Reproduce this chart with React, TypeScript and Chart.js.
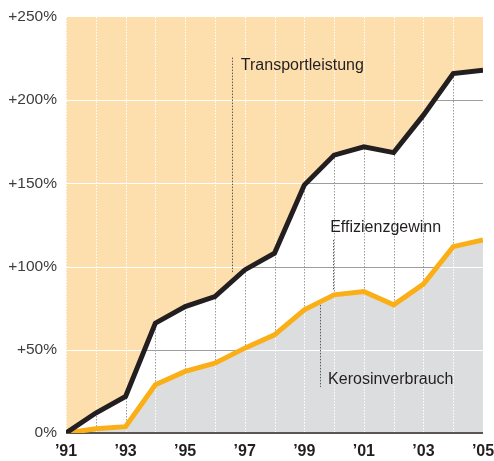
import React, { useEffect, useRef } from "react";
import { Chart, registerables } from "chart.js";

Chart.register(...registerables);

const YEARS = [1991, 1992, 1993, 1994, 1995, 1996, 1997, 1998, 1999, 2000, 2001, 2002, 2003, 2004, 2005];
const TRANSPORT = [0, 12, 22, 66, 76, 82, 98, 108, 149, 167, 172, 168.5, 191, 216, 218];
const KEROSIN = [0, 2.5, 3.8, 29, 37, 42, 51, 59, 74, 83, 85, 77, 89.5, 112, 116];
const Y_TICKS = [0, 50, 100, 150, 200, 250];
const GRID_VALUES = [50, 100, 150, 200];

// annotations: [label, lineX (year), lineTop (%), lineBottom (%), textX (year), textY (%)]
const ANNOTATIONS: [string, number, number, number, number, number][] = [
  ["Transportleistung", 1996.57, 225.6, 96, 1996.87, 221],
  ["Effizienzgewinn", 1999.97, 116, 86, 1999.87, 123.6],
  ["Kerosinverbrauch", 1999.53, 77, 27.6, 1999.8, 32],
];

const ORANGE_BG = "#fddfae";
const GRAY_FILL = "#dcdddf";
const BLACK = "#231f20";
const ORANGE = "#fbaf17";

const bgPlugin = {
  id: "bgPlugin",
  beforeDatasetsDraw(chart: any) {
    const { ctx, chartArea: a, scales } = chart;
    const xs = scales.x;
    const ys = scales.y;
    const px = (v: number) => xs.getPixelForValue(v);
    const py = (v: number) => ys.getPixelForValue(v);
    const last = YEARS[YEARS.length - 1];
    ctx.save();
    ctx.fillStyle = ORANGE_BG;
    ctx.fillRect(a.left, a.top, a.right - a.left, a.bottom - a.top);

    const areaPath = (vals: number[]) => {
      ctx.beginPath();
      ctx.moveTo(px(YEARS[0]), py(0));
      YEARS.forEach((yr, i) => ctx.lineTo(px(yr), py(vals[i])));
      ctx.lineTo(px(last), py(0));
      ctx.closePath();
    };
    areaPath(TRANSPORT);
    ctx.fillStyle = "#ffffff";
    ctx.fill();
    areaPath(KEROSIN);
    ctx.fillStyle = GRAY_FILL;
    ctx.fill();

    const drawGrid = (hColor: string, vColor: string) => {
      ctx.lineWidth = 1;
      ctx.strokeStyle = hColor;
      ctx.setLineDash([]);
      GRID_VALUES.forEach((v) => {
        const yy = Math.round(py(v)) + 0.5;
        ctx.beginPath();
        ctx.moveTo(a.left, yy);
        ctx.lineTo(a.right, yy);
        ctx.stroke();
      });
      ctx.strokeStyle = vColor;
      ctx.setLineDash([1.5, 1.5]);
      YEARS.forEach((yr) => {
        const xx = Math.round(px(yr)) + 0.5;
        ctx.beginPath();
        ctx.moveTo(xx, a.top);
        ctx.lineTo(xx, a.bottom);
        ctx.stroke();
      });
      ctx.setLineDash([]);
    };
    drawGrid("#ffffff", "#ffffff");

    ctx.save();
    ctx.beginPath();
    YEARS.forEach((yr, i) => {
      if (i === 0) ctx.moveTo(px(yr), py(TRANSPORT[i]));
      else ctx.lineTo(px(yr), py(TRANSPORT[i]));
    });
    for (let i = YEARS.length - 1; i >= 0; i--) ctx.lineTo(px(YEARS[i]), py(KEROSIN[i]));
    ctx.closePath();
    ctx.clip();
    drawGrid("#9d9d9d", "#9d9d9d");
    ctx.restore();

    // annotation leader lines
    ctx.strokeStyle = "#5a5a5a";
    ctx.lineWidth = 1;
    ctx.setLineDash([1.5, 1.5]);
    ANNOTATIONS.forEach(([, lx, lt, lb]) => {
      const xx = Math.round(px(lx)) + 0.5;
      ctx.beginPath();
      ctx.moveTo(xx, py(lt));
      ctx.lineTo(xx, py(lb));
      ctx.stroke();
    });
    ctx.setLineDash([]);

    // bottom axis line
    ctx.strokeStyle = "#5b5552";
    ctx.lineWidth = 2;
    ctx.beginPath();
    ctx.moveTo(a.left, Math.round(py(0)));
    ctx.lineTo(a.right, Math.round(py(0)));
    ctx.stroke();
    ctx.restore();
  },
  afterDatasetsDraw(chart: any) {
    const { ctx, scales } = chart;
    const px = (v: number) => scales.x.getPixelForValue(v);
    const py = (v: number) => scales.y.getPixelForValue(v);
    ctx.save();
    ctx.fillStyle = BLACK;
    ctx.font = "16px 'Liberation Sans', Arial, sans-serif";
    ctx.textBaseline = "middle";
    ctx.textAlign = "left";
    ANNOTATIONS.forEach(([label, , , , tx, ty]) => {
      ctx.fillText(label, px(tx), py(ty));
    });
    ctx.restore();
  },
};

export default function App() {
  const ref = useRef<HTMLCanvasElement>(null);
  useEffect(() => {
    if (!ref.current) return;
    const chart = new Chart(ref.current, {
      type: "line",
      data: {
        datasets: [
          {
            label: "Transportleistung",
            data: YEARS.map((yr, i) => ({ x: yr, y: TRANSPORT[i] })),
            borderColor: BLACK,
            borderWidth: 5,
            borderJoinStyle: "miter",
            pointRadius: 0,
            fill: false,
            tension: 0,
          },
          {
            label: "Kerosinverbrauch",
            data: YEARS.map((yr, i) => ({ x: yr, y: KEROSIN[i] })),
            borderColor: ORANGE,
            borderWidth: 5,
            borderJoinStyle: "miter",
            pointRadius: 0,
            fill: false,
            tension: 0,
          },
        ],
      },
      options: {
        responsive: false,
        animation: false,
        layout: { padding: { top: 17, right: 11, left: 0, bottom: 0 } },
        plugins: { legend: { display: false }, tooltip: { enabled: false } },
        scales: {
          x: {
            type: "linear",
            min: YEARS[0],
            max: YEARS[YEARS.length - 1],
            grid: { display: false, drawTicks: false },
            border: { display: false },
            afterBuildTicks: (scale: any) => {
              scale.ticks = YEARS.filter((_, i) => i % 2 === 0).map((v) => ({ value: v }));
            },
            ticks: {
              padding: 9,
              color: BLACK,
              font: { family: "'Liberation Sans', Arial, sans-serif", size: 16, weight: "bold" },
              maxRotation: 0,
              autoSkip: false,
              callback: (v: any) => "\u2019" + String(v).slice(2),
            },
            afterFit: (scale: any) => {
              scale.height = 28;
              scale.paddingLeft = 0;
              scale.paddingRight = 0;
            },
          },
          y: {
            min: 0,
            max: 250,
            grid: { display: false, drawTicks: false },
            border: { display: false },
            afterBuildTicks: (scale: any) => {
              scale.ticks = Y_TICKS.map((v) => ({ value: v }));
            },
            ticks: {
              padding: 9,
              color: "#3d3d3d",
              font: { family: "'Liberation Sans', Arial, sans-serif", size: 15.5 },
              callback: (v: any) => (v === 0 ? "0%" : "+" + v + "%"),
            },
            afterFit: (scale: any) => {
              scale.width = 66;
              scale.paddingTop = 0;
              scale.paddingBottom = 0;
            },
          },
        },
      },
      plugins: [bgPlugin],
    } as any);
    return () => chart.destroy();
  }, []);
  return (
    <div style={{ position: "absolute", left: 0, top: 0, width: 494, height: 461 }}>
      <canvas ref={ref} width={494} height={461} style={{ display: "block" }} />
    </div>
  );
}
